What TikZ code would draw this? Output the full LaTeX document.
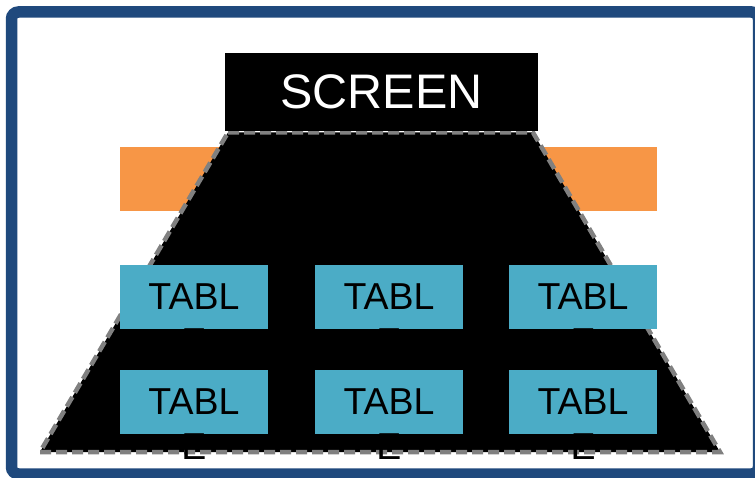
\documentclass[tikz,border=0pt]{standalone}
\usepackage{fontspec}
\setmainfont{Liberation Sans}
\definecolor{framebl}{HTML}{1F497D}
\definecolor{seatorange}{HTML}{F79646}
\definecolor{tableteal}{HTML}{4BACC6}
\definecolor{edgegray}{HTML}{808080}
\tikzset{
  tablebox/.style={fill=tableteal, draw=none, minimum width=148pt, minimum height=64pt,
    inner sep=0pt, font=\fontsize{37.5}{45}\selectfont, text=black},
  tailtext/.style={inner sep=0pt, font=\fontsize{37.5}{45}\selectfont, text=black, anchor=north},
  sidebox/.style={fill=seatorange, draw=none, minimum width=148pt, minimum height=64pt, inner sep=0pt},
  screenbox/.style={fill=black, draw=none, minimum width=313pt, minimum height=78pt,
    inner sep=0pt, font=\fontsize{48.5}{58}\selectfont, text=white},
  stage/.style={fill=black, draw=edgegray, line width=4.5pt, dash pattern=on 11pt off 5pt},
  outerframe/.style={draw=framebl, line width=11.5pt, rounded corners=7pt}
}
\begin{document}
\begin{tikzpicture}[x=1pt,y=-1pt]
  \clip (0,0) rectangle (755,478);
  \fill[white] (0,0) rectangle (755,478);
  % outer frame
  \draw[outerframe] (11.5,12) rectangle (758.5,474);
  % side panels behind the floor
  \node[sidebox] (sideL) at (194,179) {};
  \node[sidebox] (sideR) at (583,179) {};
  % floor area
  \draw[stage] (228,132.5) -- (533,132.5) -- (720,452) -- (40,452) -- cycle;
  % screen
  \node[screenbox] (screen) at (381.5,92) {SCREEN};
  % tables, two rows of three
  \foreach \c/\x in {1/194, 2/389, 3/583} {
    \node[tablebox] (ta\c) at (\x,297) {TABL};
    \node[tailtext] (ea\c) at ([yshift=1pt]ta\c.south) {E};
    \node[tablebox] (tb\c) at (\x,402) {TABL};
    \node[tailtext] (eb\c) at ([yshift=1pt]tb\c.south) {E};
  }
\end{tikzpicture}
\end{document}
